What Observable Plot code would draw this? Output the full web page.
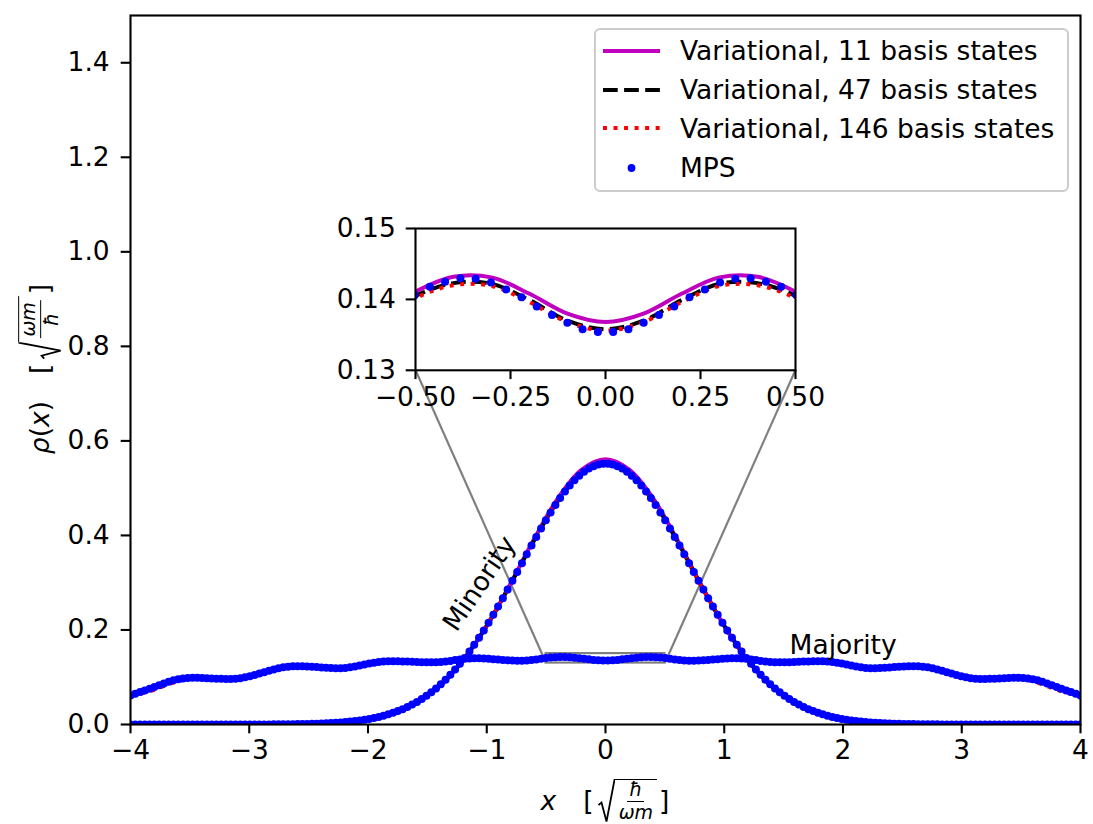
<!DOCTYPE html>
<html><head><meta charset="utf-8">
<script src="https://cdn.jsdelivr.net/npm/d3@7"></script>
<script src="https://cdn.jsdelivr.net/npm/@observablehq/plot@0.6"></script>
<style>
body{margin:0;background:#fff;}
#fig{position:relative;width:1093px;height:824px;font-family:"DejaVu Sans",sans-serif;overflow:hidden;background:#fff;}
#fig svg{position:absolute;}
.mlab{position:absolute;display:flex;align-items:center;font-size:26.5px;white-space:nowrap;line-height:1;color:#000;}
.it{font-style:italic;}
.gap{display:inline-block;width:27px;}
.rgroup{display:inline-flex;align-items:stretch;height:44px;margin-left:4px;}
.rgroup svg{position:static !important;}
.frac{display:inline-flex;flex-direction:column;justify-content:center;align-items:center;border-top:1.8px solid #000;font-size:19px;padding:0 4px;box-sizing:border-box;height:44px;}
.frac .num{border-bottom:1.6px solid #000;padding:0 2px 1px 2px;line-height:1.05;}
.frac .den{padding-top:1px;line-height:1.05;}
#legend{position:absolute;left:594px;top:28px;width:475px;height:164px;box-sizing:border-box;border:2px solid #cccccc;border-radius:6px;background:rgba(255,255,255,0.8);}
.lrow{position:absolute;left:0;height:30px;display:flex;align-items:center;font-size:26.5px;}
.lrow svg{position:static !important;}
.lrow span{position:absolute;left:84px;white-space:nowrap;}
</style></head><body><div id="fig"></div>
<script>
// ---------------- data ----------------
const xDomain = [-4, 4];
const yDomain = [0, 1.5];
const xTicks = [-4, -3, -2, -1, 0, 1, 2, 3, 4];
const yTicks = [0, 0.2, 0.4, 0.6, 0.8, 1.0, 1.2, 1.4];
const insetXDomain = [-0.5, 0.5];
const insetYDomain = [0.13, 0.15];
const insetXTicks = [-0.5, -0.25, 0, 0.25, 0.5];
const insetYTicks = [0.13, 0.14, 0.15];
// inset placement, in main-axis data coordinates
const insetPlaceX = [-1.6, 1.6];
const insetPlaceY = [0.75, 1.05];

const legendLabels = ["Variational, 11 basis states", "Variational, 47 basis states", "Variational, 146 basis states", "MPS"];
const annotations = [
  {label: "Minority", x: -1.06, y: 0.298, rotate: -56},
  {label: "Majority", x: 1.55, y: 0.15, rotate: 0}
];

// MPS sample positions
const xMPS = [
-4.0000,-3.9598,-3.9196,-3.8794,-3.8392,-3.7990,-3.7588,-3.7186,-3.6784,-3.6382,
-3.5980,-3.5578,-3.5176,-3.4774,-3.4372,-3.3970,-3.3568,-3.3166,-3.2764,-3.2362,
-3.1960,-3.1558,-3.1156,-3.0754,-3.0352,-2.9950,-2.9548,-2.9146,-2.8744,-2.8342,
-2.7940,-2.7538,-2.7136,-2.6734,-2.6332,-2.5930,-2.5528,-2.5126,-2.4724,-2.4322,
-2.3920,-2.3518,-2.3116,-2.2714,-2.2312,-2.1910,-2.1508,-2.1106,-2.0704,-2.0302,
-1.9899,-1.9497,-1.9095,-1.8693,-1.8291,-1.7889,-1.7487,-1.7085,-1.6683,-1.6281,
-1.5879,-1.5477,-1.5075,-1.4673,-1.4271,-1.3869,-1.3467,-1.3065,-1.2663,-1.2261,
-1.1859,-1.1457,-1.1055,-1.0653,-1.0251,-0.9849,-0.9447,-0.9045,-0.8643,-0.8241,
-0.7839,-0.7437,-0.7035,-0.6633,-0.6231,-0.5829,-0.5427,-0.5025,-0.4623,-0.4221,
-0.3819,-0.3417,-0.3015,-0.2613,-0.2211,-0.1809,-0.1407,-0.1005,-0.0603,-0.0201,
0.0201,0.0603,0.1005,0.1407,0.1809,0.2211,0.2613,0.3015,0.3417,0.3819,
0.4221,0.4623,0.5025,0.5427,0.5829,0.6231,0.6633,0.7035,0.7437,0.7839,
0.8241,0.8643,0.9045,0.9447,0.9849,1.0251,1.0653,1.1055,1.1457,1.1859,
1.2261,1.2663,1.3065,1.3467,1.3869,1.4271,1.4673,1.5075,1.5477,1.5879,
1.6281,1.6683,1.7085,1.7487,1.7889,1.8291,1.8693,1.9095,1.9497,1.9899,
2.0302,2.0704,2.1106,2.1508,2.1910,2.2312,2.2714,2.3116,2.3518,2.3920,
2.4322,2.4724,2.5126,2.5528,2.5930,2.6332,2.6734,2.7136,2.7538,2.7940,
2.8342,2.8744,2.9146,2.9548,2.9950,3.0352,3.0754,3.1156,3.1558,3.1960,
3.2362,3.2764,3.3166,3.3568,3.3970,3.4372,3.4774,3.5176,3.5578,3.5980,
3.6382,3.6784,3.7186,3.7588,3.7990,3.8392,3.8794,3.9196,3.9598,4.0000];

const mpsMinority = [
0,0,0,0,0,0,0,0,0,0,
0,0,0,0,0,0,0,0,0,0,
0,0,0,0,0.0001,0.0001,0.0001,0.0001,0.0002,0.0002,
0.0003,0.0003,0.0004,0.0005,0.0007,0.0008,0.0010,0.0012,0.0015,0.0018,
0.0021,0.0026,0.0031,0.0037,0.0044,0.0052,0.0062,0.0073,0.0086,0.0101,
0.0118,0.0138,0.0160,0.0186,0.0215,0.0247,0.0284,0.0324,0.0370,0.0421,
0.0477,0.0539,0.0608,0.0683,0.0764,0.0853,0.0949,0.1052,0.1164,0.1283,
0.1409,0.1543,0.1685,0.1834,0.1990,0.2152,0.2321,0.2494,0.2673,0.2855,
0.3040,0.3227,0.3414,0.3601,0.3787,0.3969,0.4147,0.4320,0.4486,0.4643,
0.4791,0.4928,0.5054,0.5166,0.5264,0.5347,0.5415,0.5466,0.5501,0.5518,
0.5518,0.5501,0.5466,0.5415,0.5347,0.5264,0.5166,0.5054,0.4928,0.4791,
0.4643,0.4486,0.4320,0.4147,0.3969,0.3787,0.3601,0.3414,0.3227,0.3040,
0.2855,0.2673,0.2494,0.2321,0.2152,0.1990,0.1834,0.1685,0.1543,0.1409,
0.1283,0.1164,0.1052,0.0949,0.0853,0.0764,0.0683,0.0608,0.0539,0.0477,
0.0421,0.0370,0.0324,0.0284,0.0247,0.0215,0.0186,0.0160,0.0138,0.0118,
0.0101,0.0086,0.0073,0.0062,0.0052,0.0044,0.0037,0.0031,0.0026,0.0021,
0.0018,0.0015,0.0012,0.0010,0.0008,0.0007,0.0005,0.0004,0.0003,0.0003,
0.0002,0.0002,0.0001,0.0001,0.0001,0.0001,0,0,0,0,
0,0,0,0,0,0,0,0,0,0,
0,0,0,0,0,0,0,0,0,0];

const mpsMajority = [
0.0615,0.0650,0.0685,0.0720,0.0756,0.0792,0.0829,0.0868,0.0906,0.0936,
0.0959,0.0975,0.0985,0.0988,0.0987,0.0984,0.0979,0.0975,0.0970,0.0966,
0.0963,0.0963,0.0969,0.0981,0.0999,0.1021,0.1048,0.1077,0.1107,0.1137,
0.1164,0.1189,0.1209,0.1224,0.1233,0.1235,0.1233,0.1228,0.1222,0.1214,
0.1206,0.1199,0.1193,0.1190,0.1191,0.1197,0.1209,0.1226,0.1246,0.1268,
0.1289,0.1309,0.1324,0.1335,0.1340,0.1340,0.1338,0.1335,0.1331,0.1327,
0.1323,0.1319,0.1316,0.1315,0.1316,0.1322,0.1332,0.1346,0.1362,0.1377,
0.1390,0.1398,0.1402,0.1401,0.1397,0.1391,0.1383,0.1374,0.1365,0.1357,
0.1352,0.1349,0.1348,0.1353,0.1363,0.1376,0.1391,0.1406,0.1418,0.1425,
0.1430,0.1429,0.1424,0.1414,0.1403,0.1390,0.1378,0.1367,0.1358,0.1354,
0.1354,0.1358,0.1367,0.1378,0.1390,0.1403,0.1414,0.1424,0.1429,0.1430,
0.1425,0.1418,0.1406,0.1391,0.1376,0.1363,0.1353,0.1348,0.1349,0.1352,
0.1357,0.1365,0.1374,0.1383,0.1391,0.1397,0.1401,0.1402,0.1398,0.1390,
0.1377,0.1362,0.1346,0.1332,0.1322,0.1316,0.1315,0.1316,0.1319,0.1323,
0.1327,0.1331,0.1335,0.1338,0.1340,0.1340,0.1335,0.1324,0.1309,0.1289,
0.1268,0.1246,0.1226,0.1209,0.1197,0.1191,0.1190,0.1193,0.1199,0.1206,
0.1214,0.1222,0.1228,0.1233,0.1235,0.1233,0.1224,0.1209,0.1189,0.1164,
0.1137,0.1107,0.1077,0.1048,0.1021,0.0999,0.0981,0.0969,0.0963,0.0963,
0.0966,0.0970,0.0975,0.0979,0.0984,0.0987,0.0988,0.0985,0.0975,0.0959,
0.0936,0.0906,0.0868,0.0829,0.0792,0.0756,0.0720,0.0685,0.0650,0.0615];

// variational curves, majority component (x = lineX)
const lineX = [
-4.0,-3.9,-3.8,-3.7,-3.6,-3.5,-3.4,-3.3,-3.2,-3.1,
-3.0,-2.9,-2.8,-2.7,-2.6,-2.5,-2.4,-2.3,-2.2,-2.1,
-2.0,-1.9,-1.8,-1.7,-1.6,-1.5,-1.4,-1.3,-1.2,-1.1,
-1.0,-0.9,-0.8,-0.7,-0.6,-0.5,-0.4,-0.3,-0.2,-0.1,
0,
0.1,0.2,0.3,0.4,0.5,0.6,0.7,0.8,0.9,1.0,
1.1,1.2,1.3,1.4,1.5,1.6,1.7,1.8,1.9,2.0,
2.1,2.2,2.3,2.4,2.5,2.6,2.7,2.8,2.9,3.0,
3.1,3.2,3.3,3.4,3.5,3.6,3.7,3.8,3.9,4.0];

const var11Majority = [
0.0615,0.0703,0.0790,0.0885,0.0959,0.0987,0.0984,0.0972,0.0964,0.0973,
0.1019,0.1088,0.1160,0.1215,0.1235,0.1226,0.1207,0.1192,0.1195,0.1231,
0.1284,0.1328,0.1340,0.1334,0.1324,0.1316,0.1319,0.1349,0.1386,0.1402,
0.1393,0.1373,0.1358,0.1356,0.1378,0.1411,0.1432,0.1431,0.1408,0.1380,
0.1368,
0.1380,0.1408,0.1431,0.1432,0.1411,0.1378,0.1356,0.1358,0.1373,0.1393,
0.1402,0.1386,0.1349,0.1319,0.1316,0.1324,0.1334,0.1340,0.1328,0.1284,
0.1231,0.1195,0.1192,0.1207,0.1226,0.1235,0.1215,0.1160,0.1088,0.1019,
0.0973,0.0964,0.0972,0.0984,0.0987,0.0959,0.0885,0.0790,0.0703,0.0615];

const var47Majority = [
0.0615,0.0703,0.0790,0.0885,0.0959,0.0987,0.0984,0.0972,0.0964,0.0973,
0.1019,0.1088,0.1160,0.1215,0.1235,0.1226,0.1207,0.1192,0.1195,0.1231,
0.1284,0.1328,0.1340,0.1334,0.1324,0.1316,0.1319,0.1349,0.1386,0.1402,
0.1393,0.1373,0.1354,0.1350,0.1374,0.1405,0.1423,0.1422,0.1399,0.1370,
0.1358,
0.1370,0.1399,0.1422,0.1423,0.1405,0.1374,0.1350,0.1354,0.1373,0.1393,
0.1402,0.1386,0.1349,0.1319,0.1316,0.1324,0.1334,0.1340,0.1328,0.1284,
0.1231,0.1195,0.1192,0.1207,0.1226,0.1235,0.1215,0.1160,0.1088,0.1019,
0.0973,0.0964,0.0972,0.0984,0.0987,0.0959,0.0885,0.0790,0.0703,0.0615];

const var146Majority = [
0.0600,0.0662,0.0735,0.0830,0.0915,0.0975,0.0984,0.0972,0.0964,0.0973,
0.1019,0.1088,0.1160,0.1215,0.1235,0.1226,0.1207,0.1192,0.1195,0.1231,
0.1284,0.1328,0.1340,0.1334,0.1324,0.1316,0.1319,0.1349,0.1386,0.1402,
0.1393,0.1373,0.1352,0.1348,0.1371,0.1402,0.1420,0.1419,0.1396,0.1368,
0.1356,
0.1368,0.1396,0.1419,0.1420,0.1402,0.1371,0.1348,0.1352,0.1373,0.1393,
0.1402,0.1386,0.1349,0.1319,0.1316,0.1324,0.1334,0.1340,0.1328,0.1284,
0.1231,0.1195,0.1192,0.1207,0.1226,0.1235,0.1215,0.1160,0.1088,0.1019,
0.0973,0.0964,0.0972,0.0984,0.0975,0.0915,0.0830,0.0735,0.0662,0.0600];

// variational curves, minority component (x = lineXc)
const lineXc = [
-4.0,-3.8,-3.6,-3.4,-3.2,-3.0,-2.8,-2.6,-2.4,-2.2,
-2.0,-1.8,-1.6,-1.4,-1.2,-1.0,-0.8,-0.6,-0.4,-0.2,
0,
0.2,0.4,0.6,0.8,1.0,1.2,1.4,1.6,1.8,2.0,
2.2,2.4,2.6,2.8,3.0,3.2,3.4,3.6,3.8,4.0];

const var11Minority = [
0,0,0,0,0,0,0.0002,0.0007,0.0019,0.0047,
0.0107,0.0228,0.0446,0.0807,0.1350,0.2086,0.2979,0.3929,0.4789,0.5392,
0.5610,
0.5392,0.4789,0.3929,0.2979,0.2086,0.1350,0.0807,0.0446,0.0228,0.0107,
0.0047,0.0019,0.0007,0.0002,0,0,0,0,0,0];

const var47Minority = [
0,0,0,0,0,0,0.0003,0.0008,0.0020,0.0050,
0.0113,0.0237,0.0458,0.0822,0.1363,0.2090,0.2967,0.3896,0.4733,0.5319,
0.5530,
0.5319,0.4733,0.3896,0.2967,0.2090,0.1363,0.0822,0.0458,0.0237,0.0113,
0.0050,0.0020,0.0008,0.0003,0,0,0,0,0,0];

const var146Minority = [
0,0,0,0,0,0,0.0003,0.0008,0.0020,0.0050,
0.0113,0.0237,0.0458,0.0822,0.1363,0.2090,0.2967,0.3896,0.4733,0.5319,
0.5530,
0.5319,0.4733,0.3896,0.2967,0.2090,0.1363,0.0822,0.0458,0.0237,0.0113,
0.0050,0.0020,0.0008,0.0003,0,0,0,0,0,0];

// ---------------- styling ----------------
const FS = 26.5;
const LW = 3.97;
const TK = 9.3, TW = 2.1;
const C11 = "#bf00bf", C47 = "#000000", C146 = "#ff0000", CMPS = "#0000ff", CGRAY = "#808080";
const DASH = "14.7,6.4", DOT = "3.97,6.56";

function rows(maj, min) {
  return [
    ...lineX.map((x, i) => ({x, y: maj[i], part: "majority"})),
    ...lineXc.map((x, i) => ({x, y: min[i], part: "minority"}))
  ];
}
const v11 = rows(var11Majority, var11Minority);
const v47 = rows(var47Majority, var47Minority);
const v146 = rows(var146Majority, var146Minority);
const mps = [
  ...xMPS.map((x, i) => ({x, y: mpsMajority[i], part: "majority"})),
  ...xMPS.map((x, i) => ({x, y: mpsMinority[i], part: "minority"}))
];

function seriesMarks(r) {
  return [
    Plot.line(v11, {x: "x", y: "y", z: "part", stroke: C11, strokeWidth: LW, curve: "catmull-rom", clip: true}),
    Plot.line(v47, {x: "x", y: "y", z: "part", stroke: C47, strokeWidth: LW, strokeDasharray: DASH, strokeLinecap: "butt", curve: "catmull-rom", clip: true}),
    Plot.line(v146, {x: "x", y: "y", z: "part", stroke: C146, strokeWidth: LW, strokeDasharray: DOT, strokeLinecap: "butt", curve: "catmull-rom", clip: true}),
    Plot.dot(mps, {x: "x", y: "y", r, fill: CMPS, stroke: "none", clip: true})
  ];
}

const zoomBox = [{x1: insetXDomain[0], x2: insetXDomain[1], y1: insetYDomain[0], y2: insetYDomain[1]}];
const connectors = [
  {x1: insetXDomain[0], y1: insetYDomain[0], x2: insetPlaceX[0], y2: insetPlaceY[0]},
  {x1: insetXDomain[1], y1: insetYDomain[0], x2: insetPlaceX[1], y2: insetPlaceY[0]}
];

const fig = document.getElementById("fig");

const main = Plot.plot({
  width: 1093, height: 824,
  marginLeft: 130, marginRight: 13, marginTop: 15, marginBottom: 100,
  x: {domain: xDomain, label: null},
  y: {domain: yDomain, label: null},
  style: {background: "transparent", fontFamily: "DejaVu Sans", fontSize: FS + "px", overflow: "visible"},
  marks: [
    Plot.rect(zoomBox, {x1: "x1", x2: "x2", y1: "y1", y2: "y2", fill: "none", stroke: CGRAY, strokeWidth: 2.2}),
    Plot.link(connectors, {x1: "x1", y1: "y1", x2: "x2", y2: "y2", stroke: CGRAY, strokeWidth: 2.2}),
    ...seriesMarks(4),
    Plot.text(annotations.filter(d => d.rotate !== 0), {x: "x", y: "y", text: "label", rotate: "rotate", fontSize: FS, textAnchor: "middle", lineAnchor: "middle", fill: "black"}),
    Plot.text(annotations.filter(d => d.rotate === 0), {x: "x", y: "y", text: "label", fontSize: FS, textAnchor: "start", lineAnchor: "bottom", fill: "black"}),
    Plot.axisX({ticks: xTicks, tickSize: TK, tickPadding: 6, strokeWidth: TW, tickFormat: d3.format("d"), label: null, fontSize: FS}),
    Plot.axisY({ticks: yTicks, tickSize: TK, tickPadding: 11.5, strokeWidth: TW, tickFormat: d3.format(".1f"), label: null, fontSize: FS}),
    Plot.frame({stroke: "black", strokeWidth: TW})
  ]
});
main.style.left = "0px"; main.style.top = "0px";
fig.appendChild(main);

const xs = main.scale("x"), ys = main.scale("y");
const px1 = xs.apply(insetPlaceX[0]), px2 = xs.apply(insetPlaceX[1]);
const py1 = ys.apply(insetPlaceY[1]), py2 = ys.apply(insetPlaceY[0]);
const iL = 100, iR = 50, iT = 14, iB = 50;

const inset = Plot.plot({
  width: (px2 - px1) + iL + iR, height: (py2 - py1) + iT + iB,
  marginLeft: iL, marginRight: iR, marginTop: iT, marginBottom: iB,
  x: {domain: insetXDomain, label: null},
  y: {domain: insetYDomain, label: null},
  style: {background: "transparent", fontFamily: "DejaVu Sans", fontSize: FS + "px", overflow: "visible"},
  marks: [
    Plot.frame({fill: "white", stroke: "none"}),
    ...seriesMarks(4),
    Plot.axisX({ticks: insetXTicks, tickSize: TK, tickPadding: 8, strokeWidth: TW, tickFormat: d3.format(".2f"), label: null, fontSize: FS}),
    Plot.axisY({ticks: insetYTicks, tickSize: TK, tickPadding: 10.4, strokeWidth: TW, tickFormat: d3.format(".2f"), label: null, fontSize: FS}),
    Plot.frame({stroke: "black", strokeWidth: TW})
  ]
});
inset.style.left = (px1 - iL) + "px"; inset.style.top = (py1 - iT) + "px";
fig.appendChild(inset);

// ---------------- legend ----------------
const legend = document.createElement("div");
legend.id = "legend";
const swatches = [
  `<line x1="0" y1="15" x2="57" y2="15" stroke="${C11}" stroke-width="${LW}"/>`,
  `<line x1="0" y1="15" x2="57" y2="15" stroke="${C47}" stroke-width="${LW}" stroke-dasharray="${DASH}"/>`,
  `<line x1="0" y1="15" x2="57" y2="15" stroke="${C146}" stroke-width="${LW}" stroke-dasharray="${DOT}"/>`,
  `<circle cx="28.5" cy="15" r="3.9" fill="${CMPS}"/>`
];
const rowTops = [5.5, 44.5, 83, 122.5];
legendLabels.forEach((lab, i) => {
  const r = document.createElement("div");
  r.className = "lrow";
  r.style.top = rowTops[i] + "px";
  r.innerHTML = `<svg width="57" height="30" style="margin-left:7px">${swatches[i]}</svg><span></span>`;
  r.querySelector("span").textContent = lab;
  legend.appendChild(r);
});
fig.appendChild(legend);

// ---------------- axis labels ----------------
const radSvg = `<svg width="17" height="44" viewBox="0 0 17 44"><path d="M0.5,26 L3.5,23.5 L8.5,42.5 L16.5,0.9 L17,0.9" fill="none" stroke="#000" stroke-width="1.8" stroke-linejoin="miter"/></svg>`;

const xl = document.createElement("div");
xl.className = "mlab";
xl.innerHTML = `<span class="it">x</span><span class="gap"></span><span>[</span><span class="rgroup">${radSvg}<span class="frac"><span class="num it">ħ</span><span class="den it">ωm</span></span></span><span style="margin-left:2px">]</span>`;
fig.appendChild(xl);
const xw = xl.getBoundingClientRect();
xl.style.left = (xs.apply(0) - xw.width / 2) + "px";
xl.style.top = (801 - xw.height / 2) + "px";

const yl = document.createElement("div");
yl.className = "mlab";
yl.innerHTML = `<span class="it">ρ</span><span>(</span><span class="it">x</span><span>)</span><span class="gap"></span><span>[</span><span class="rgroup">${radSvg}<span class="frac"><span class="num it">ωm</span><span class="den it">ħ</span></span></span><span style="margin-left:2px">]</span>`;
fig.appendChild(yl);
const yw = yl.getBoundingClientRect();
yl.style.left = (40 - yw.width / 2) + "px";
yl.style.top = (369 - yw.height / 2) + "px";
yl.style.transform = "rotate(-90deg)";
</script>
</body></html>
